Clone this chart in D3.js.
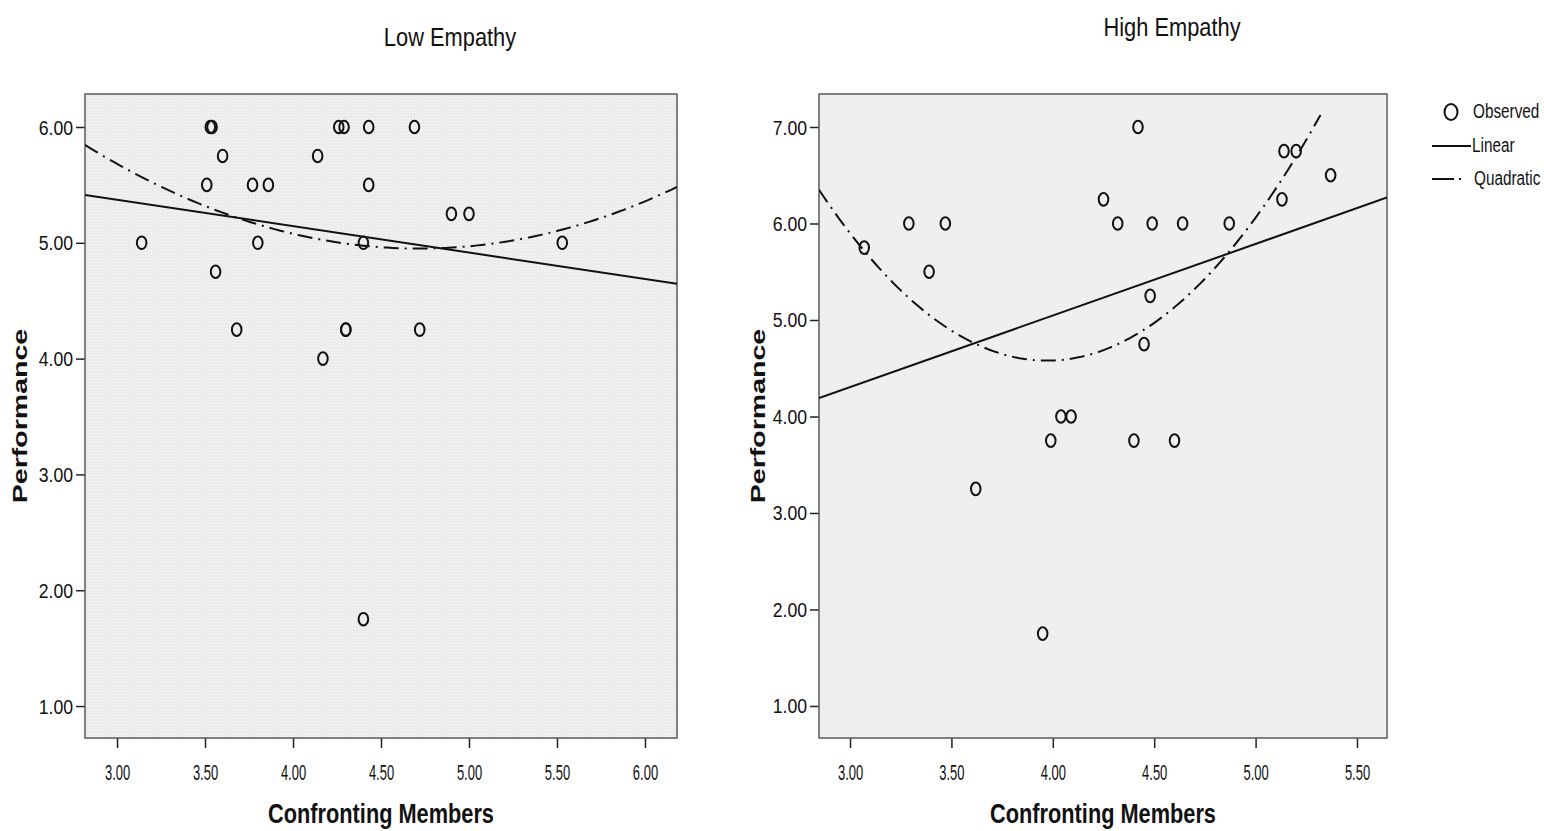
<!DOCTYPE html>
<html><head><meta charset="utf-8">
<script src="https://cdn.jsdelivr.net/npm/d3@7/dist/d3.min.js"></script>
<style>body{margin:0;background:#fff}svg{display:block}text{font-family:"Liberation Sans",Arial,sans-serif;fill:#111}</style>
</head><body><svg id="c" width="1544" height="831"></svg>
<script>
// ---- data ----
const lowX = [3.14,3.53,3.54,3.51,3.60,3.56,3.68,3.77,3.86,3.80,4.14,4.26,4.29,4.43,4.43,4.40,4.30,4.30,4.17,4.40,4.69,4.72,4.90,5.00,5.53];
const lowY = [5.00,6.00,6.00,5.50,5.75,4.75,4.25,5.50,5.50,5.00,5.75,6.00,6.00,6.00,5.50,5.00,4.25,4.25,4.00,1.75,6.00,4.25,5.25,5.25,5.00];
const highX = [3.07,3.29,3.39,3.47,3.62,3.95,3.99,4.04,4.09,4.25,4.32,4.42,4.40,4.45,4.48,4.49,4.64,4.60,4.87,5.13,5.14,5.20,5.37];
const highY = [5.75,6.00,5.50,6.00,3.25,1.75,3.75,4.00,4.00,6.25,6.00,7.00,3.75,4.75,5.25,6.00,6.00,3.75,6.00,6.25,6.75,6.75,6.50];
// fit coefficients [c0, c1, c2]
const linearLow = [6.056,-0.228];
const quadLow = [10.47,-2.340,0.248];
const linearHigh = [2.078,0.742];
const quadHigh = [26.66,-11.12,1.400];
const quadHighXMax = 5.32;
const xDomainLow = [2.818,6.182], yDomainLow = [0.724,6.285];
const xDomainHigh = [2.847,5.648], yDomainHigh = [0.668,7.342];
const xTicksLow = [3,3.5,4,4.5,5,5.5,6], yTicksLow = [1,2,3,4,5,6];
const xTicksHigh = [3,3.5,4,4.5,5,5.5], yTicksHigh = [1,2,3,4,5,6,7];
const titles = ["Low Empathy","High Empathy"];
const xTitle = "Confronting Members", yTitle = "Performance";
const legendLabels = ["Observed","Linear","Quadratic"];

const svg = d3.select("#c");
const defs = svg.append("defs");
const pat = defs.append("pattern").attr("id","stip").attr("width",3).attr("height",3).attr("patternUnits","userSpaceOnUse");
pat.append("rect").attr("width",3).attr("height",3).attr("fill","#ececec");
pat.append("rect").attr("x",1).attr("y",1).attr("width",1).attr("height",1).attr("fill","#fafafa");

const DASH = "15,6,2,6";

function stext(g, str, x, y, F, sx, sy, opts={}){
  return g.append("text")
    .attr("transform",`translate(${x},${y}) ${opts.rot?`rotate(${opts.rot})`:""} scale(${sx},${sy})`)
    .attr("font-size",F).attr("text-anchor",opts.anchor||"middle")
    .attr("fill",opts.fill||"#111")
    .attr("font-weight",opts.bold?"bold":"normal").text(str);
}

function panel(cfg){
  const {id,left,right,top,bottom,xd,yd,xt,yt,xs,ys,lin,quad,qmax,bg,title,titleX,titleY,ytitleX} = cfg;
  const x = d3.scaleLinear().domain(xd).range([left,right]);
  const y = d3.scaleLinear().domain(yd).range([bottom,top]);
  const g = svg.append("g");
  g.append("rect").attr("x",left).attr("y",top).attr("width",right-left).attr("height",bottom-top).attr("fill",bg);
  defs.append("clipPath").attr("id","clip"+id).append("rect").attr("x",left).attr("y",top).attr("width",right-left).attr("height",bottom-top);
  const fmt = d3.format(".2f");
  const ax = g.append("g").attr("transform",`translate(0,${bottom})`).call(d3.axisBottom(x).tickValues(xt).tickSize(10).tickFormat(fmt));
  ax.select(".domain").remove();
  ax.selectAll(".tick line").attr("stroke","#222").attr("stroke-width",1.5);
  ax.selectAll(".tick text").remove();
  ax.selectAll(".tick").each(function(d){ stext(d3.select(this), fmt(d), 0, 42, 18, 0.72, 1.25, {fill:"#222"}); });
  const ay = g.append("g").attr("transform",`translate(${left},0)`).call(d3.axisLeft(y).tickValues(yt).tickSize(9).tickFormat(fmt));
  ay.select(".domain").remove();
  ay.selectAll(".tick line").attr("stroke","#222").attr("stroke-width",1.5);
  ay.selectAll(".tick text").remove();
  ay.selectAll(".tick").each(function(d){ stext(d3.select(this), fmt(d), -12, 7, 18, 0.98, 1.12, {anchor:"end",fill:"#222"}); });
  g.append("rect").attr("x",left).attr("y",top).attr("width",right-left).attr("height",bottom-top).attr("fill","none").attr("stroke","#5a5a5a").attr("stroke-width",1.5);
  const cg = g.append("g").attr("clip-path",`url(#clip${id})`);
  const lineGen = d3.line().x(d=>x(d[0])).y(d=>y(d[1]));
  cg.append("path").datum([xd[0],xd[1]].map(v=>[v, lin[0]+lin[1]*v]))
    .attr("d",lineGen).attr("fill","none").attr("stroke","#111").attr("stroke-width",2);
  const qx = d3.range(0,101).map(i=> xd[0] + (Math.min(qmax,xd[1])-xd[0])*i/100);
  cg.append("path").datum(qx.map(v=>[v, quad[0]+quad[1]*v+quad[2]*v*v]))
    .attr("d",lineGen).attr("fill","none").attr("stroke","#111").attr("stroke-width",2).attr("stroke-dasharray",DASH);
  cg.selectAll("ellipse.pt").data(xs.map((v,i)=>[v,ys[i]])).join("ellipse").attr("class","pt")
    .attr("cx",d=>x(d[0])).attr("cy",d=>y(d[1])).attr("rx",4.8).attr("ry",6.3)
    .attr("fill","none").attr("stroke","#111").attr("stroke-width",2);
  stext(g, title, titleX, titleY, 23, 0.95, 1.15, {fill:"#222"});
  stext(g, xTitle, (left+right)/2, 823, 25, 0.87, 1.1, {bold:true});
  stext(g, yTitle, ytitleX, (top+bottom)/2, 21, 1.36, 1, {bold:true, rot:-90});
}

panel({id:"L",left:85,right:677,top:94,bottom:738,xd:xDomainLow,yd:yDomainLow,xt:xTicksLow,yt:yTicksLow,xs:lowX,ys:lowY,
  lin:linearLow,quad:quadLow,qmax:99,bg:"url(#stip)",title:titles[0],titleX:450,titleY:46,ytitleX:27});
panel({id:"H",left:819,right:1387,top:94,bottom:738,xd:xDomainHigh,yd:yDomainHigh,xt:xTicksHigh,yt:yTicksHigh,xs:highX,ys:highY,
  lin:linearHigh,quad:quadHigh,qmax:quadHighXMax,bg:"#efefef",title:titles[1],titleX:1172,titleY:36,ytitleX:765});

// legend
const lg = svg.append("g");
lg.append("ellipse").attr("cx",1451).attr("cy",112).attr("rx",6.5).attr("ry",8).attr("fill","none").attr("stroke","#111").attr("stroke-width",2);
lg.append("line").attr("x1",1432).attr("x2",1471).attr("y1",146).attr("y2",146).attr("stroke","#111").attr("stroke-width",2);
lg.append("line").attr("x1",1432).attr("x2",1471).attr("y1",179).attr("y2",179).attr("stroke","#111").attr("stroke-width",2).attr("stroke-dasharray","22,5,2,10");
stext(lg, legendLabels[0], 1473, 118, 17, 0.9, 1.15, {anchor:"start",fill:"#222"});
stext(lg, legendLabels[1], 1472, 152, 17, 0.9, 1.15, {anchor:"start",fill:"#222"});
stext(lg, legendLabels[2], 1474, 185, 17, 0.9, 1.15, {anchor:"start",fill:"#222"});
</script></body></html>
